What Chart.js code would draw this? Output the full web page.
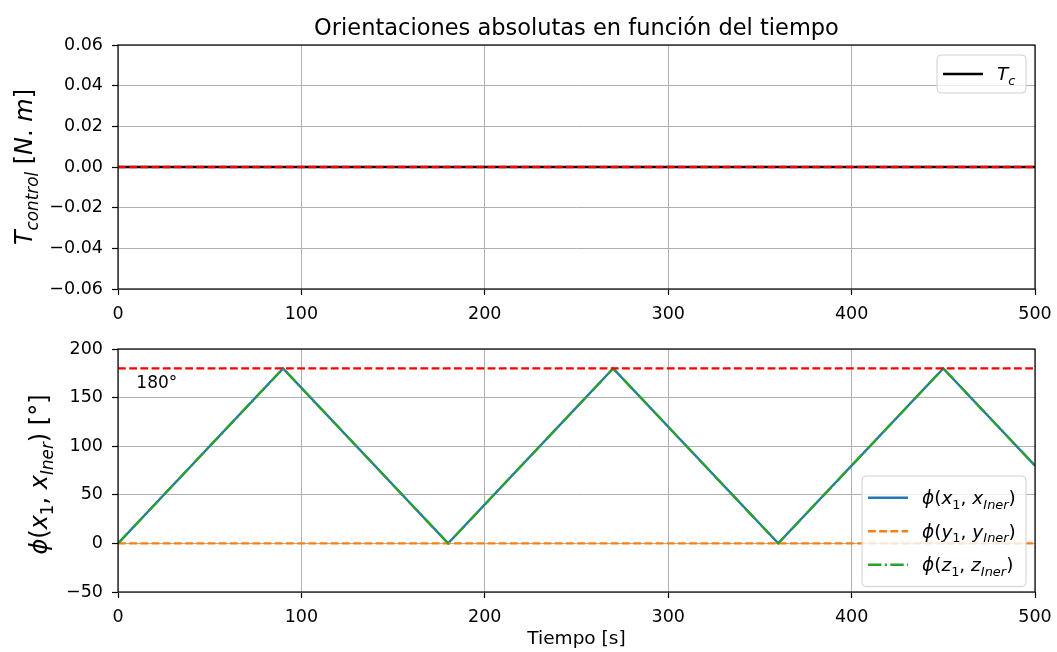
<!DOCTYPE html>
<html>
<head>
<meta charset="utf-8">
<script src="https://cdn.jsdelivr.net/npm/chart.js@4.4.1/dist/chart.umd.min.js"></script>
<style>
  html, body { margin: 0; padding: 0; background: #fff; }
  #wrap { position: relative; width: 1057px; height: 652px; }
  .panel { position: absolute; left: 0; width: 1057px; }
</style>
</head>
<body>
<div id="wrap">
  <div class="panel" style="top:0;height:330px"><canvas id="torque"></canvas></div>
  <div class="panel" style="top:330px;height:322px"><canvas id="orient"></canvas></div>
</div>
<script>
// ---- data ----
const tiempo = [0, 90, 180, 270, 360, 450, 500];
const phiX = [0, 180, 0, 180, 0, 180, 80];
const phiY = [0, 0, 0, 0, 0, 0, 0];
const phiZ = [0, 180, 0, 180, 0, 180, 80];

const tcTiempo = [0, 500];
const tc = [0, 0];
const tcRef = [0, 0];
const limite = [180, 180];

const xTicks = [0, 100, 200, 300, 400, 500];
const yTicksTorque = [-0.06, -0.04, -0.02, 0, 0.02, 0.04, 0.06];
const yTicksOrient = [-50, 0, 50, 100, 150, 200];

// ---- style ----
const FONT = '"DejaVu Sans", sans-serif';
const TICK_SIZE = 17.5;
const LABEL_SIZE = 24;
const C_BLUE = '#1f77b4', C_ORANGE = '#ff7f0e', C_GREEN = '#2ca02c', C_RED = '#ff0000';
const LW = 2.3;
const DASH = [7.8, 3.4];
const DASHDOT = [13.4, 3.4, 2.1, 3.4];

const pts = (xs, ys) => xs.map((x, i) => ({ x, y: ys[i] }));
const minus = s => s.replace('-', '\u2212');

// text with italic / subscript runs (mathtext-like)
function runFont(p, size) {
  const s = p.sub ? size * 0.7 : size;
  return (p.it ? 'italic ' : '') + s + 'px ' + FONT;
}
function richWidth(ctx, parts, size) {
  let w = 0;
  parts.forEach(p => { ctx.font = runFont(p, size); w += ctx.measureText(p.t).width; });
  return w;
}
function drawRich(ctx, parts, x, y, size) {
  ctx.textAlign = 'left';
  ctx.textBaseline = 'alphabetic';
  let cx = x;
  parts.forEach(p => {
    ctx.font = runFont(p, size);
    ctx.fillText(p.t, cx, y + (p.sub ? size * 0.24 : 0));
    cx += ctx.measureText(p.t).width;
  });
}

// axes frame on all four sides
const frame = {
  id: 'frame',
  afterDatasetsDraw(chart) {
    const a = chart.chartArea, ctx = chart.ctx;
    ctx.save();
    ctx.strokeStyle = '#000';
    ctx.lineWidth = 1.2;
    ctx.strokeRect(a.left, a.top, a.right - a.left, a.bottom - a.top);
    ctx.restore();
  }
};

// legend box drawn inside the axes
function drawLegend(ctx, x, y, w, rowH, items, size) {
  const h = rowH * items.length + 10;
  ctx.save();
  ctx.fillStyle = 'rgba(255,255,255,0.8)';
  ctx.strokeStyle = '#d0d0d0';
  ctx.lineWidth = 1;
  ctx.beginPath();
  ctx.roundRect(x, y, w, h, 4);
  ctx.fill();
  ctx.stroke();
  items.forEach((it, i) => {
    const cy = y + 5 + rowH * (i + 0.5);
    ctx.strokeStyle = it.color;
    ctx.lineWidth = LW;
    ctx.setLineDash(it.dash || []);
    ctx.beginPath();
    ctx.moveTo(x + 6, cy);
    ctx.lineTo(x + 46, cy);
    ctx.stroke();
    ctx.setLineDash([]);
    ctx.fillStyle = '#000';
    drawRich(ctx, it.label, x + 60, cy + size * 0.35, size);
  });
  ctx.restore();
}

function xScale(height) {
  return {
    type: 'linear', min: 0, max: 500,
    afterBuildTicks: s => { s.ticks = xTicks.map(v => ({ value: v })); },
    afterFit: s => { s.height = height; s.paddingLeft = 0; s.paddingRight = 0; },
    ticks: { color: '#000', font: { family: FONT, size: TICK_SIZE }, padding: 9, maxRotation: 0 },
    grid: { color: '#b0b0b0', lineWidth: 1, tickColor: '#000', tickLength: 6, tickWidth: 1.2 },
    border: { display: false }
  };
}
function yScale(min, max, ticks, fmt) {
  return {
    type: 'linear', min, max,
    afterBuildTicks: s => { s.ticks = ticks.map(v => ({ value: v })); },
    afterFit: s => { s.width = 118; s.paddingTop = 0; s.paddingBottom = 0; },
    ticks: { color: '#000', font: { family: FONT, size: TICK_SIZE }, padding: 9, callback: fmt },
    grid: { color: '#b0b0b0', lineWidth: 1, tickColor: '#000', tickLength: 6, tickWidth: 1.2 },
    border: { display: false }
  };
}

Chart.defaults.animation = false;
Chart.defaults.font.family = FONT;

// ---- top panel: control torque ----
const torqueText = {
  id: 'torqueText',
  afterDraw(chart) {
    const ctx = chart.ctx, a = chart.chartArea;
    ctx.save();
    ctx.fillStyle = '#000';
    ctx.font = '22.5px ' + FONT;
    ctx.textAlign = 'center';
    ctx.textBaseline = 'alphabetic';
    ctx.fillText('Orientaciones absolutas en función del tiempo', (a.left + a.right) / 2, 35);

    const ylab = [
      { t: 'T', it: true }, { t: 'control', it: true, sub: true },
      { t: ' [' }, { t: 'N', it: true }, { t: '. ' }, { t: 'm', it: true }, { t: ']' }
    ];
    const w = richWidth(ctx, ylab, LABEL_SIZE);
    ctx.translate(32, (a.top + a.bottom) / 2);
    ctx.rotate(-Math.PI / 2);
    drawRich(ctx, ylab, -w / 2, 0, LABEL_SIZE);
    ctx.restore();

    drawLegend(ctx, a.right - 98, a.top + 10, 89, 28, [
      { color: '#000', label: [{ t: 'T', it: true }, { t: 'c', it: true, sub: true }] }
    ], 18.5);
  }
};

new Chart(document.getElementById('torque'), {
  type: 'line',
  data: {
    datasets: [
      { label: 'Tc', data: pts(tcTiempo, tc), borderColor: '#000', borderWidth: LW, pointRadius: 0, order: 2 },
      { label: 'ref', data: pts(tcTiempo, tcRef), borderColor: C_RED, borderWidth: LW, borderDash: DASH, pointRadius: 0, order: 1 }
    ]
  },
  options: {
    responsive: true, maintainAspectRatio: false,
    layout: { padding: { left: 0, right: 22, top: 45, bottom: 0 } },
    plugins: { legend: { display: false }, tooltip: { enabled: false } },
    scales: {
      x: xScale(41),
      y: yScale(-0.06, 0.06, yTicksTorque, v => minus(v.toFixed(2)))
    }
  },
  plugins: [frame, torqueText]
});

// ---- bottom panel: absolute orientations ----
const orientText = {
  id: 'orientText',
  afterDraw(chart) {
    const ctx = chart.ctx, a = chart.chartArea;
    const xs = chart.scales.x, ys = chart.scales.y;
    ctx.save();
    ctx.fillStyle = '#000';
    ctx.font = '17px ' + FONT;
    ctx.textAlign = 'left';
    ctx.textBaseline = 'alphabetic';
    ctx.fillText('180°', xs.getPixelForValue(10), ys.getPixelForValue(160));

    ctx.font = '18.5px ' + FONT;
    ctx.textAlign = 'center';
    ctx.fillText('Tiempo [s]', (a.left + a.right) / 2, 314);

    const ylab = [
      { t: 'ϕ', it: true }, { t: '(' }, { t: 'x', it: true }, { t: '1', sub: true },
      { t: ', ' }, { t: 'x', it: true }, { t: 'Iner', it: true, sub: true }, { t: ')' }, { t: ' [°]' }
    ];
    const w = richWidth(ctx, ylab, LABEL_SIZE);
    ctx.translate(47, (a.top + a.bottom) / 2 + 4);
    ctx.rotate(-Math.PI / 2);
    drawRich(ctx, ylab, -w / 2, 0, LABEL_SIZE);
    ctx.restore();

    drawLegend(ctx, a.right - 173, a.bottom - 116, 164, 33.5, [
      { color: C_BLUE, label: [{ t: 'ϕ', it: true }, { t: '(' }, { t: 'x', it: true }, { t: '1', sub: true }, { t: ', ' }, { t: 'x', it: true }, { t: 'Iner', it: true, sub: true }, { t: ')' }] },
      { color: C_ORANGE, dash: DASH, label: [{ t: 'ϕ', it: true }, { t: '(' }, { t: 'y', it: true }, { t: '1', sub: true }, { t: ', ' }, { t: 'y', it: true }, { t: 'Iner', it: true, sub: true }, { t: ')' }] },
      { color: C_GREEN, dash: DASHDOT, label: [{ t: 'ϕ', it: true }, { t: '(' }, { t: 'z', it: true }, { t: '1', sub: true }, { t: ', ' }, { t: 'z', it: true }, { t: 'Iner', it: true, sub: true }, { t: ')' }] }
    ], 18.5);
  }
};

new Chart(document.getElementById('orient'), {
  type: 'line',
  data: {
    datasets: [
      { label: 'phiX', data: pts(tiempo, phiX), borderColor: C_BLUE, borderWidth: LW, pointRadius: 0, order: 4 },
      { label: 'phiY', data: pts(tiempo, phiY), borderColor: C_ORANGE, borderWidth: LW, borderDash: DASH, pointRadius: 0, order: 3 },
      { label: 'phiZ', data: pts(tiempo, phiZ), borderColor: C_GREEN, borderWidth: LW, borderDash: DASHDOT, pointRadius: 0, order: 2 },
      { label: '180', data: pts(tcTiempo, limite), borderColor: C_RED, borderWidth: LW, borderDash: DASH, pointRadius: 0, order: 1 }
    ]
  },
  options: {
    responsive: true, maintainAspectRatio: false,
    layout: { padding: { left: 0, right: 22, top: 19, bottom: 0 } },
    plugins: { legend: { display: false }, tooltip: { enabled: false } },
    scales: {
      x: xScale(60),
      y: yScale(-50, 200, yTicksOrient, v => minus(String(v)))
    }
  },
  plugins: [frame, orientText]
});
</script>
</body>
</html>
